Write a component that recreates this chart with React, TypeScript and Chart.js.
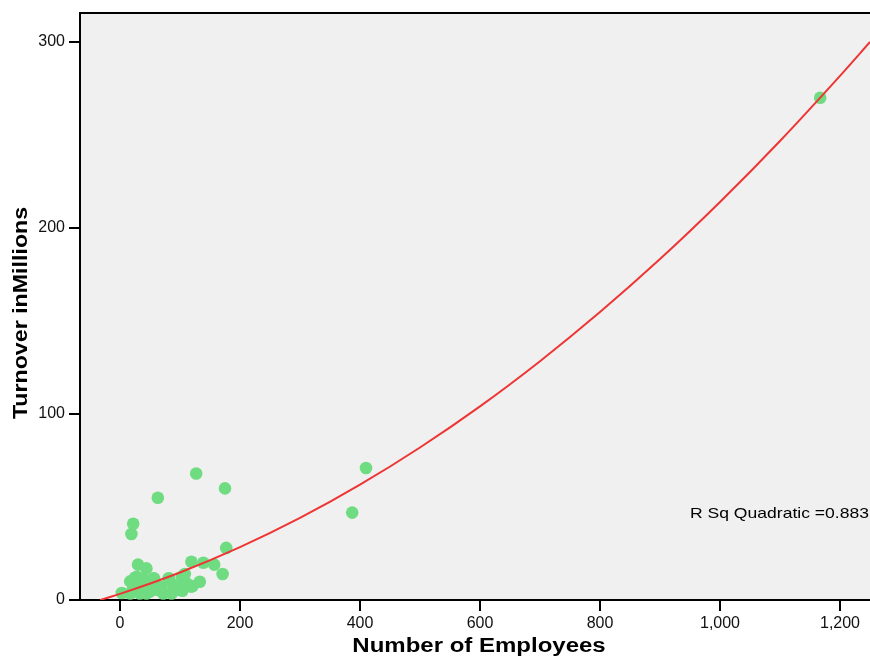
import React, { useEffect, useRef } from "react";
import { Chart, registerables } from "chart.js";

Chart.register(...registerables);

// Scatter data
const employees: number[] = [
  1167, 410, 387, 127, 175, 63, 22, 19, 177, 171, 157, 139, 119, 30, 44,
  133, 121, 104, 89, 108, 105, 82, 57, 28, 25, 17, 3, 28, 44, 67, 89, 100,
  111, 119, 50, 33, 72, 86, 17, 39, 61, 22, 58, 44, 69, 103, 50, 81, 56,
];
const turnover: number[] = [
  270, 71, 47, 68, 60, 55, 41, 35.5, 28, 14, 19, 20, 20.6, 19, 17,
  9.8, 7.5, 5, 5.7, 14, 10.5, 11.5, 11.5, 12.5, 12, 10, 3.8, 7, 9, 7, 8, 5.5,
  9, 7.2, 4.5, 3.5, 3.5, 3.5, 3.5, 11.5, 5.5, 7, 8, 3.5, 7, 12.5, 6, 11.7, 11.7,
];

// Quadratic fit line
const fitX: number[] = [-33, 0, 100, 200, 300, 400, 500, 600, 700, 800, 900, 1000, 1100, 1200, 1250];
const fitY: number[] = [0, 3.3, 14.8, 28.4, 44.1, 62, 82, 104.1, 128.4, 154.8, 183.3, 214, 246.8, 281.8, 300];

const xTicks: number[] = [0, 200, 400, 600, 800, 1000, 1200];
const yTicks: number[] = [0, 100, 200, 300];

const xTitle = "Number of Employees";
const yTitle = "Turnover inMillions";
const fitLabel = "R Sq Quadratic =0.883";

const FONT = '"Liberation Sans", Arial, sans-serif';

export default function App() {
  const ref = useRef<HTMLCanvasElement | null>(null);

  useEffect(() => {
    if (!ref.current) return;
    const decor = {
      id: "decor",
      beforeDraw(chart: any) {
        const { ctx, chartArea } = chart;
        ctx.save();
        ctx.fillStyle = "#f0f0f0";
        ctx.fillRect(chartArea.left, chartArea.top, chartArea.right - chartArea.left, chartArea.bottom - chartArea.top);
        ctx.restore();
      },
      afterDraw(chart: any) {
        const { ctx, chartArea } = chart;
        ctx.save();
        // top border
        ctx.strokeStyle = "#000";
        ctx.lineWidth = 2;
        ctx.beginPath();
        ctx.moveTo(chartArea.left - 1, chartArea.top);
        ctx.lineTo(chartArea.right, chartArea.top);
        ctx.stroke();
        ctx.fillStyle = "#000";
        // x title
        ctx.save();
        ctx.font = `bold 20px ${FONT}`;
        ctx.textAlign = "center";
        ctx.textBaseline = "alphabetic";
        ctx.translate(479, 652);
        ctx.scale(1.2, 1);
        ctx.fillText(xTitle, 0, 0);
        ctx.restore();
        // y title
        ctx.save();
        ctx.font = `bold 20px ${FONT}`;
        ctx.textAlign = "center";
        ctx.textBaseline = "alphabetic";
        ctx.translate(27, 313);
        ctx.rotate(-Math.PI / 2);
        ctx.scale(1.16, 1);
        ctx.fillText(yTitle, 0, 0);
        ctx.restore();
        // fit label
        ctx.save();
        ctx.font = `15px ${FONT}`;
        ctx.textAlign = "right";
        ctx.textBaseline = "alphabetic";
        ctx.translate(869, 518);
        ctx.scale(1.17, 1);
        ctx.fillText(fitLabel, 0, 0);
        ctx.restore();
        ctx.restore();
      },
    };

    const chart = new Chart(ref.current, {
      type: "scatter",
      data: {
        datasets: [
          {
            type: "line",
            label: "fit",
            data: fitX.map((x, i) => ({ x, y: fitY[i] })),
            borderColor: "#ee3535",
            borderWidth: 2,
            pointRadius: 0,
            fill: false,
            tension: 0.4,
            cubicInterpolationMode: "monotone",
            order: 0,
          } as any,
          {
            label: "data",
            data: employees.map((x, i) => ({ x, y: turnover[i] })),
            backgroundColor: "#70dc82",
            borderColor: "#70dc82",
            borderWidth: 0,
            pointRadius: 6.3,
            order: 1,
          },
        ],
      },
      options: {
        responsive: false,
        animation: false,
        layout: { autoPadding: false, padding: { top: 13, left: 0, right: 0, bottom: 0 } },
        plugins: { legend: { display: false }, tooltip: { enabled: false } },
        scales: {
          x: {
            type: "linear",
            min: -66.67,
            max: 1250,
            afterBuildTicks: (s: any) => {
              s.ticks = xTicks.map((v) => ({ value: v }));
            },
            afterFit: (s: any) => {
              s.height = 64;
              s.paddingLeft = 0;
              s.paddingRight = 0;
            },
            border: { display: true, color: "#000", width: 2 },
            grid: { drawOnChartArea: false, drawTicks: true, tickLength: 11, color: "#000", lineWidth: 2 },
            ticks: {
              autoSkip: false,
              maxRotation: 0,
              padding: 3,
              color: "#111",
              font: { family: FONT, size: 16 },
              callback: (v: any) => Number(v).toLocaleString("en-US"),
            },
          },
          y: {
            type: "linear",
            min: 0,
            max: 315.6,
            afterBuildTicks: (s: any) => {
              s.ticks = yTicks.map((v) => ({ value: v }));
            },
            afterFit: (s: any) => {
              s.width = 80;
              s.paddingTop = 0;
              s.paddingBottom = 0;
            },
            border: { display: true, color: "#000", width: 2 },
            grid: { drawOnChartArea: false, drawTicks: true, tickLength: 11, color: "#000", lineWidth: 2 },
            ticks: {
              autoSkip: false,
              padding: 4,
              color: "#111",
              font: { family: FONT, size: 16 },
              callback: (v: any) => String(v),
            },
          },
        },
      },
      plugins: [decor],
    });
    return () => chart.destroy();
  }, []);

  return (
    <div style={{ position: "absolute", left: 0, top: 0, width: 870, height: 664, overflow: "hidden", background: "#fff" }}>
      <canvas ref={ref} width={870} height={664} style={{ display: "block" }} />
    </div>
  );
}
